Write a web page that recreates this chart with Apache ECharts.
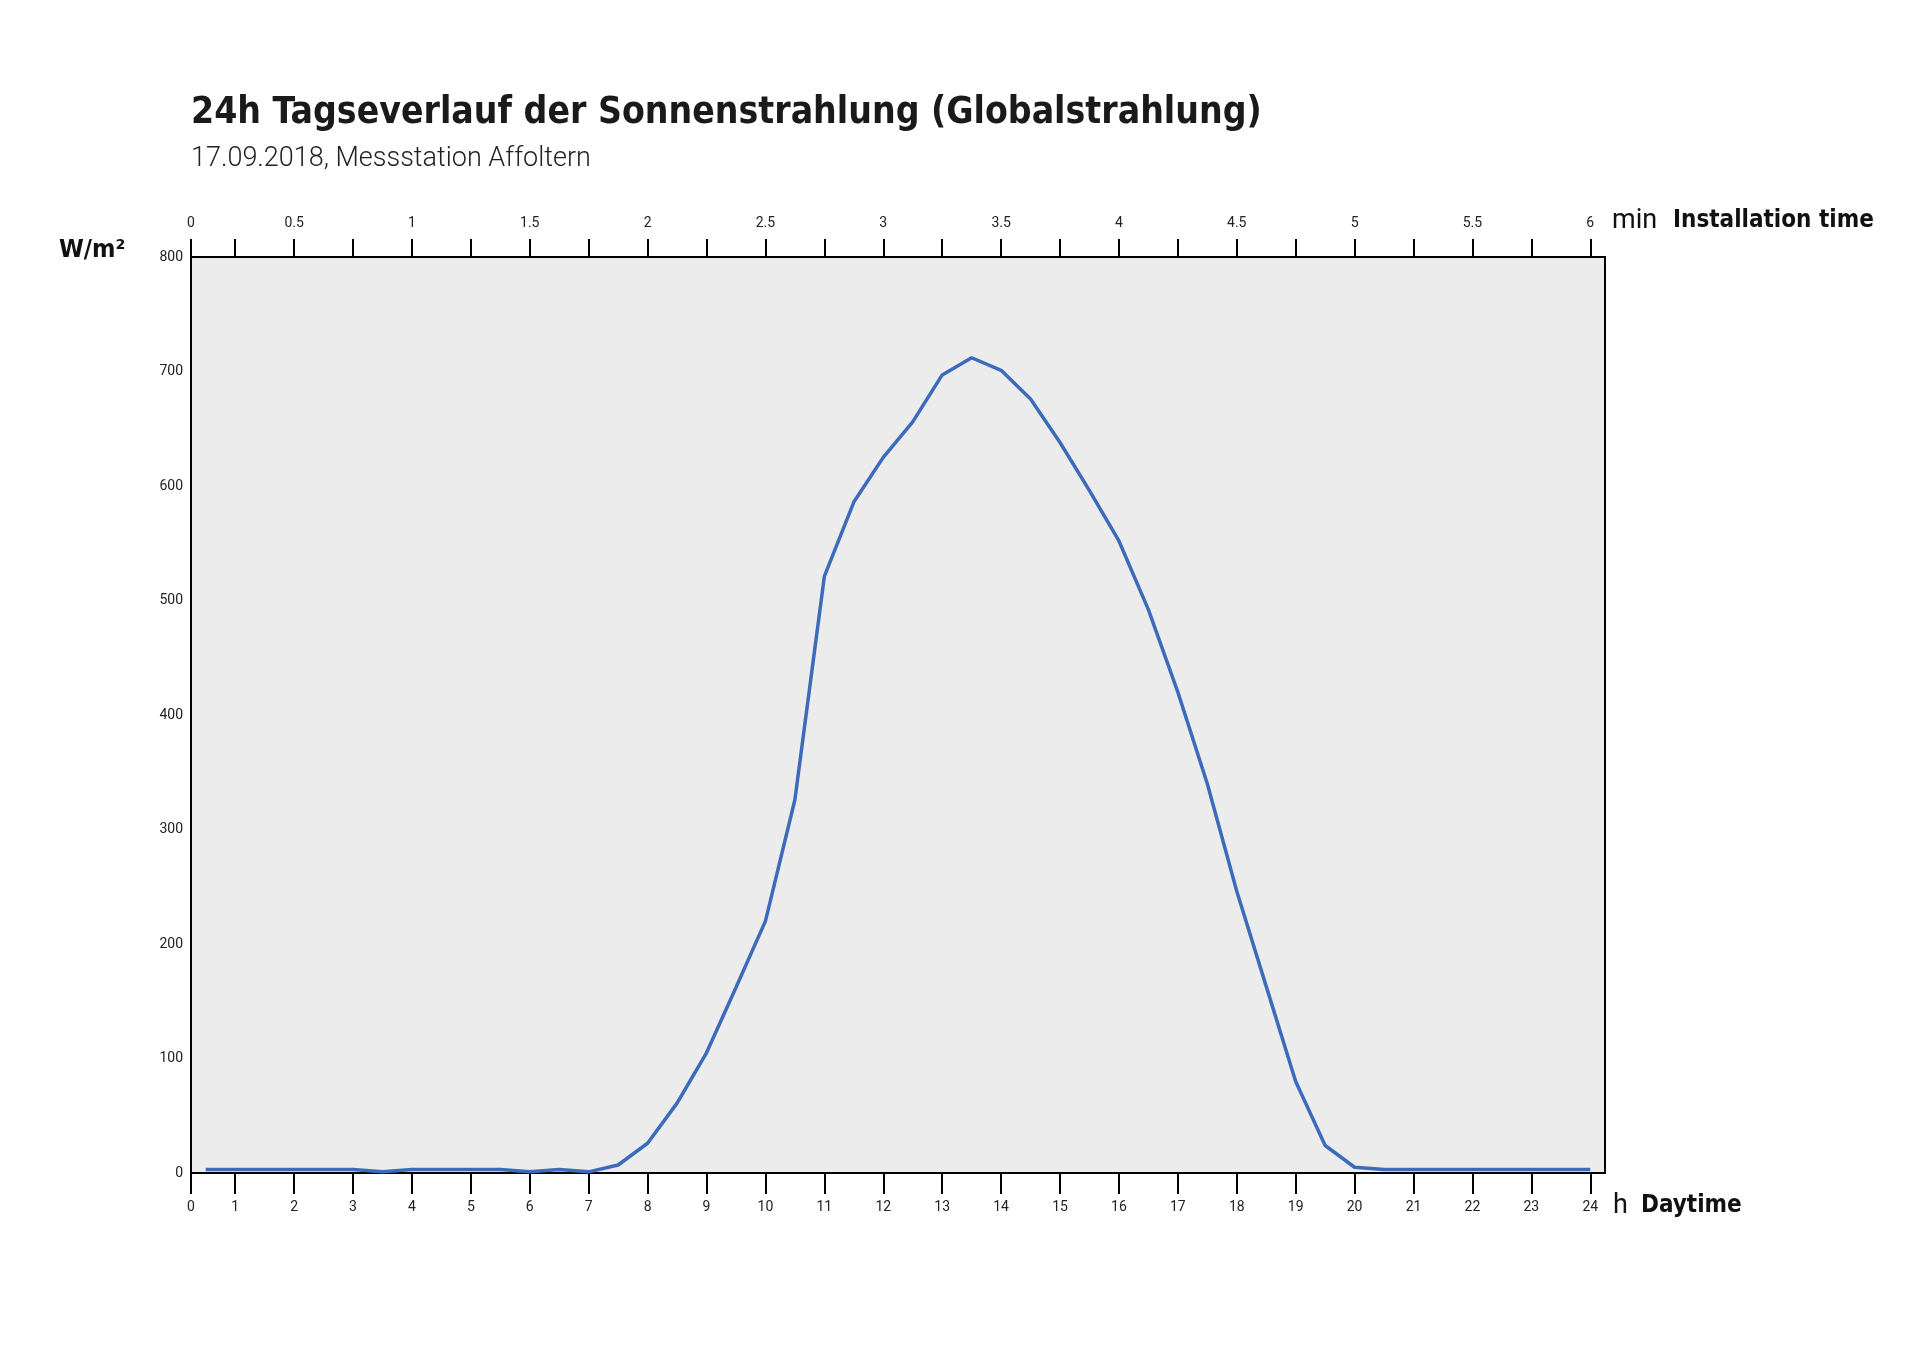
<!DOCTYPE html>
<html>
<head>
<meta charset="utf-8">
<script src="https://cdn.jsdelivr.net/npm/echarts@6/dist/echarts.min.js"></script>
<style>
html,body{margin:0;padding:0;background:#fff;}
#chart{width:1920px;height:1357px;}
</style>
</head>
<body>
<div id="chart"></div>
<script>
// Data: global radiation (W/m²) every half hour, 17.09.2018
const hours = [0.5,1,1.5,2,2.5,3,3.5,4,4.5,5,5.5,6,6.5,7,7.5,8,8.5,9,9.5,10,10.5,11,11.5,12,
               12.5,13,13.5,14,14.5,15,15.5,16,16.5,17,17.5,18,18.5,19,19.5,20,20.5,21,21.5,22,22.5,23,23.5,24];
const radiation = [3,3,3,3,3,3,1,3,3,3,3,1,3,1,7,26,61,105,162,220,326,521,586,625,
                   656,697,712,701,676,638,596,552,492,420,340,246,163,80,24,5,3,3,3,3,3,3,3,3];
// bottom axis (hours) tick/label positions; 0.25 is the left edge labelled "0"
const hourTicks = [0.25,1,2,3,4,5,6,7,8,9,10,11,12,13,14,15,16,17,18,19,20,21,22,23,24];
// top axis (minutes of installation time) labels, positioned on the hour scale
const minuteLabelPos = [0.25,2,4,6,8,10,12,14,16,18,20,22,24];
const minuteLabels = ['0','0.5','1','1.5','2','2.5','3','3.5','4','4.5','5','5.5','6'];

const NARROW = "'Liberation Sans Narrow','DejaVu Sans Condensed',Roboto,sans-serif";
const REG = "Roboto,'Liberation Sans',sans-serif";

const chart = echarts.init(document.getElementById('chart'), null, {renderer:'canvas'});
const seriesData = hours.map((h,i)=>[h, radiation[i]]);

chart.setOption({
  animation:false,
  backgroundColor:'#ffffff',
  grid:{left:191, top:257, right:315, bottom:184, show:true,
        backgroundColor:'#ececec', borderColor:'#000', borderWidth:2},
  xAxis:[{
    type:'value', position:'bottom', min:0.25, max:24.25,
    splitLine:{show:false},
    axisLine:{show:true, lineStyle:{color:'#000', width:2}},
    axisTick:{show:true, inside:false, length:21, customValues:hourTicks, lineStyle:{color:'#000', width:2}},
    axisLabel:{show:true, customValues:hourTicks, margin:27, color:'#222', fontSize:14, fontFamily:REG,
      formatter:v=> (Math.abs(v-0.25)<1e-6 ? '0' : String(v))}
  },{
    type:'value', position:'top', min:0.25, max:24.25,
    splitLine:{show:false},
    axisLine:{show:true, lineStyle:{color:'#000', width:2}},
    axisTick:{show:true, inside:false, length:18, customValues:hourTicks, lineStyle:{color:'#000', width:2}},
    axisLabel:{show:true, customValues:minuteLabelPos, margin:27, color:'#222', fontSize:14, fontFamily:REG,
      formatter:v=>{const i=minuteLabelPos.findIndex(p=>Math.abs(p-v)<1e-6); return i>=0?minuteLabels[i]:'';}}
  }],
  yAxis:{
    type:'value', min:0, max:800, interval:100,
    splitLine:{show:false},
    axisLine:{show:true, lineStyle:{color:'#000', width:2}},
    axisTick:{show:false},
    axisLabel:{margin:8, color:'#222', fontSize:14, fontFamily:REG}
  },
  series:[{
    type:'line', xAxisIndex:0, data:seriesData, showSymbol:false, symbol:'none',
    lineStyle:{color:'#3d6bbb', width:3.5}, z:5
  }],
  graphic:[
    {type:'text', silent:true, style:{x:191, y:113, text:'24h Tagseverlauf der Sonnenstrahlung (Globalstrahlung)',
      fill:'#1a1a1a', font:"bold 37px "+NARROW, textVerticalAlign:'middle'}},
    {type:'text', silent:true, style:{x:191, y:159, text:'17.09.2018, Messstation Affoltern',
      fill:'#222', font:"300 27px "+REG, textVerticalAlign:'middle'}},
    {type:'text', silent:true, style:{x:59, y:250, text:'W/m²',
      fill:'#111', font:"bold 25px "+NARROW, textVerticalAlign:'middle'}},
    {type:'text', silent:true, style:{x:1612, y:221, text:'min',
      fill:'#111', font:"27px "+REG, textVerticalAlign:'middle'}},
    {type:'text', silent:true, style:{x:1673, y:221, text:'Installation time',
      fill:'#111', font:"bold 24px "+NARROW, textVerticalAlign:'middle'}},
    {type:'text', silent:true, style:{x:1613, y:1206, text:'h',
      fill:'#111', font:"27px "+REG, textVerticalAlign:'middle'}},
    {type:'text', silent:true, style:{x:1641, y:1206, text:'Daytime',
      fill:'#111', font:"bold 24px "+NARROW, textVerticalAlign:'middle'}}
  ]
});
</script>
</body>
</html>
